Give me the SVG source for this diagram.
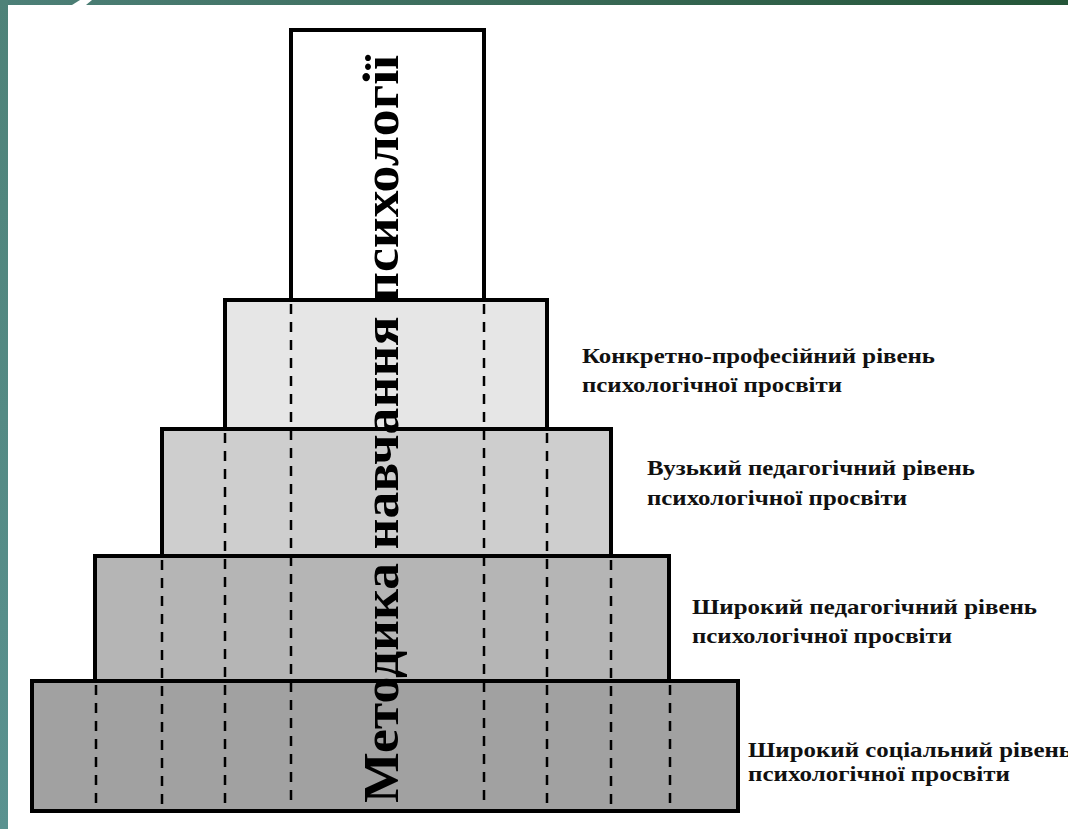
<svg xmlns="http://www.w3.org/2000/svg" width="1068" height="829" viewBox="0 0 1068 829">
  <defs>
    <linearGradient id="topband" x1="0" y1="0" x2="1" y2="0">
      <stop offset="0" stop-color="#4d8078"/>
      <stop offset="0.5" stop-color="#3a6a58"/>
      <stop offset="1" stop-color="#245538"/>
    </linearGradient>
    <linearGradient id="leftband" x1="0" y1="0" x2="0" y2="1">
      <stop offset="0" stop-color="#4e8278"/>
      <stop offset="1" stop-color="#5a9290"/>
    </linearGradient>
  </defs>
  <style>
    .tier { stroke: #000; stroke-width: 4; stroke-linejoin: miter; }
    .dash { stroke: #000; stroke-width: 2.5; stroke-dasharray: 10 8; fill: none; }
    .lbl { font-family: "Liberation Serif", "Times New Roman", serif; font-weight: bold; font-size: 22px; fill: #111; }
    .vert { font-family: "Liberation Serif", "Times New Roman", serif; font-weight: bold; font-size: 50px; fill: #000; }
  </style>

  <rect x="0" y="0" width="1068" height="829" fill="#ffffff"/>
  <rect x="0" y="0" width="1068" height="5" fill="url(#topband)"/>
  <rect x="0" y="0" width="8" height="829" fill="url(#leftband)"/>
  <path d="M72 5 L80 0 L92 0 L86 5 Z" fill="#ffffff"/>

  <g id="tier4">
    <rect class="tier" x="32" y="681" width="706" height="130" fill="#a1a1a1"/>
  </g>
  <g id="tier3">
    <rect class="tier" x="95" y="556" width="574" height="125" fill="#b5b5b5"/>
  </g>
  <g id="tier2">
    <rect class="tier" x="162" y="429" width="449" height="127" fill="#cecece"/>
  </g>
  <g id="tier1">
    <rect class="tier" x="225" y="300" width="322" height="129" fill="#e6e6e6"/>
  </g>
  <g id="top">
    <rect class="tier" x="291" y="30" width="193" height="270" fill="#ffffff"/>
  </g>

  <g id="connectors">
    <line class="dash" x1="291" y1="304" x2="291" y2="806"/>
    <line class="dash" x1="484" y1="304" x2="484" y2="806"/>
    <line class="dash" x1="225" y1="433" x2="225" y2="806"/>
    <line class="dash" x1="547" y1="433" x2="547" y2="806"/>
    <line class="dash" x1="162" y1="560" x2="162" y2="806"/>
    <line class="dash" x1="611" y1="560" x2="611" y2="806"/>
    <line class="dash" x1="96" y1="685" x2="96" y2="806"/>
    <line class="dash" x1="670" y1="685" x2="670" y2="806"/>
  </g>

  <g id="title">
    <text class="vert" transform="translate(398,429) rotate(-90)" text-anchor="middle" textLength="748" lengthAdjust="spacingAndGlyphs">Методика навчання психології</text>
  </g>

  <g id="label-konkretno">
    <text class="lbl" x="582" y="363" textLength="353" lengthAdjust="spacingAndGlyphs">Конкретно-професійний рівень</text>
    <text class="lbl" x="582" y="392" textLength="260" lengthAdjust="spacingAndGlyphs">психологічної просвіти</text>
  </g>
  <g id="label-vuzkyi">
    <text class="lbl" x="647" y="475" textLength="328" lengthAdjust="spacingAndGlyphs">Вузький педагогічний рівень</text>
    <text class="lbl" x="647" y="505" textLength="260" lengthAdjust="spacingAndGlyphs">психологічної просвіти</text>
  </g>
  <g id="label-shyrokyi-ped">
    <text class="lbl" x="692" y="614" textLength="345" lengthAdjust="spacingAndGlyphs">Широкий педагогічний рівень</text>
    <text class="lbl" x="692" y="643" textLength="260" lengthAdjust="spacingAndGlyphs">психологічної просвіти</text>
  </g>
  <g id="label-shyrokyi-soc">
    <text class="lbl" x="748" y="757" textLength="324" lengthAdjust="spacingAndGlyphs">Широкий соціальний рівень</text>
    <text class="lbl" x="748" y="781" textLength="262" lengthAdjust="spacingAndGlyphs">психологічної просвіти</text>
  </g>
</svg>
